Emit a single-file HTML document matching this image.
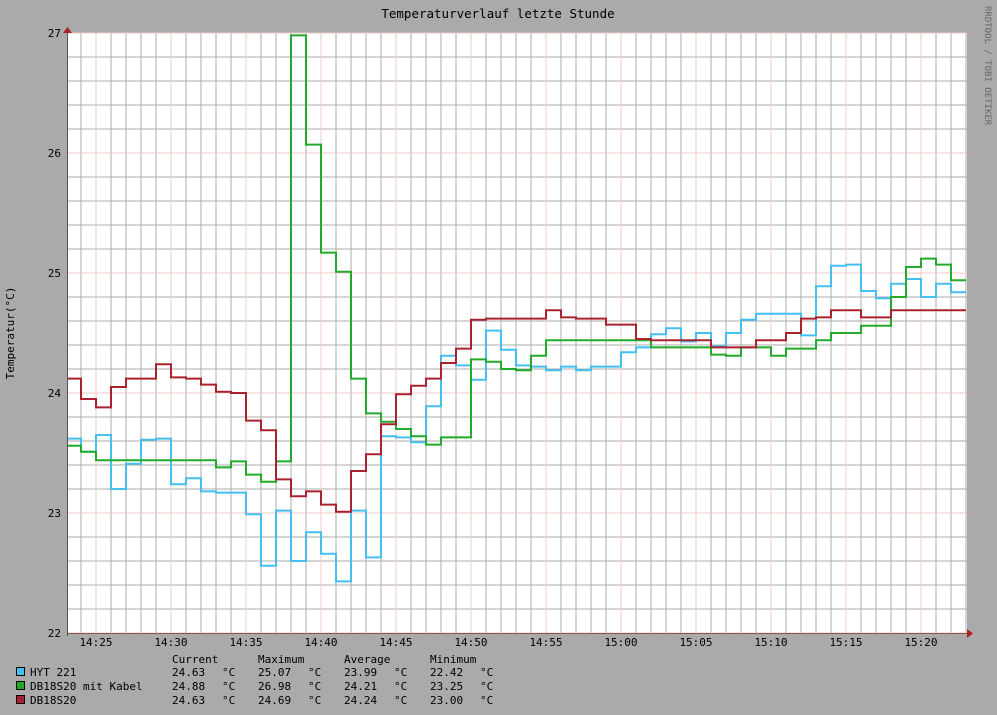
<!DOCTYPE html>
<html><head><meta charset="utf-8"><style>
body{margin:0;background:#aaaaaa;}
svg{display:block;font-family:"DejaVu Sans Mono","Liberation Mono",monospace;}
</style></head><body>
<svg id="chart" width="997" height="715" viewBox="0 0 997 715" xmlns="http://www.w3.org/2000/svg">
<rect x="0" y="0" width="997" height="715" fill="#aaaaaa"/>
<text x="498" y="18" text-anchor="middle" font-size="12.5" fill="#000">Temperaturverlauf letzte Stunde</text>
<text x="0" y="0" transform="translate(985,6) rotate(90)" font-size="9" fill="#666">RRDTOOL / TOBI OETIKER</text>
<text x="0" y="0" transform="translate(14,333) rotate(-90)" text-anchor="middle" font-size="11" fill="#000">Temperatur(°C)</text>
<rect x="67" y="33" width="900" height="600" fill="#ffffff"/>
<path id="minorgrid" d="" fill="none" stroke="#ababab" stroke-width="1" shape-rendering="crispEdges"/>
<path id="majorgrid" d="" fill="none" stroke="#f3c8c8" stroke-width="1" shape-rendering="crispEdges"/>
<g id="series"></g><g id="axes"></g><g id="legend"></g>
</svg>
<script>
const categoriesMinutes = [0,1,2,3,4,5,6,7,8,9,10,11,12,13,14,15,16,17,18,19,20,21,22,23,24,25,26,27,28,29,30,31,32,33,34,35,36,37,38,39,40,41,42,43,44,45,46,47,48,49,50,51,52,53,54,55,56,57,58,59];
const hytValues = [23.62,23.51,23.65,23.20,23.41,23.61,23.62,23.24,23.29,23.18,23.17,23.17,22.99,22.56,23.02,22.60,22.84,22.66,22.43,23.02,22.63,23.64,23.63,23.59,23.89,24.31,24.23,24.11,24.52,24.36,24.23,24.22,24.19,24.22,24.19,24.22,24.22,24.34,24.38,24.49,24.54,24.43,24.50,24.39,24.50,24.61,24.66,24.66,24.66,24.48,24.89,25.06,25.07,24.85,24.79,24.91,24.95,24.80,24.91,24.84];
const kabelValues = [23.56,23.51,23.44,23.44,23.44,23.44,23.44,23.44,23.44,23.44,23.38,23.43,23.32,23.26,23.43,26.98,26.07,25.17,25.01,24.12,23.83,23.76,23.70,23.64,23.57,23.63,23.63,24.28,24.26,24.20,24.19,24.31,24.44,24.44,24.44,24.44,24.44,24.44,24.44,24.38,24.38,24.38,24.38,24.32,24.31,24.38,24.38,24.31,24.37,24.37,24.44,24.50,24.50,24.56,24.56,24.80,25.05,25.12,25.07,24.94];
const db18Values = [24.12,23.95,23.88,24.05,24.12,24.12,24.24,24.13,24.12,24.07,24.01,24.00,23.77,23.69,23.28,23.14,23.18,23.07,23.01,23.35,23.49,23.74,23.99,24.06,24.12,24.25,24.37,24.61,24.62,24.62,24.62,24.62,24.69,24.63,24.62,24.62,24.57,24.57,24.45,24.44,24.44,24.44,24.44,24.38,24.38,24.38,24.44,24.44,24.50,24.62,24.63,24.69,24.69,24.63,24.63,24.69,24.69,24.69,24.69,24.69];
const yTicks = [22,23,24,25,26,27];
const xTickLabels = ["14:25","14:30","14:35","14:40","14:45","14:50","14:55","15:00","15:05","15:10","15:15","15:20"];
const xTickMinutes = [2,7,12,17,22,27,32,37,42,47,52,57];
const legendNames = ["HYT 221","DB18S20 mit Kabel","DB18S20"];
const legendCurrent = ["24.63","24.88","24.63"];
const legendMax = ["25.07","26.98","24.69"];
const legendAvg = ["23.99","24.21","24.24"];
const legendMin = ["22.42","23.25","23.00"];

const NS="http://www.w3.org/2000/svg";
const X0=67,X1=967,Y0=33,Y1=633,YMIN=22,YMAX=27;
function xs(m){return Math.min(X1,Math.max(X0,66+15*m));}
function ys(v){return Y1-(v-YMIN)/(YMAX-YMIN)*(Y1-Y0);}
function mk(tag,attrs,parent){const e=document.createElementNS(NS,tag);for(const k in attrs)e.setAttribute(k,attrs[k]);parent.appendChild(e);return e;}
const axes=document.getElementById('axes'),ser=document.getElementById('series'),leg=document.getElementById('legend');
let dMinor='',dMajor='';
for(let k=0;k<=25;k++){
  const y=Math.round(ys(YMIN+k*0.2));
  const seg='M'+X0+' '+y+' L'+X1+' '+y+' ';
  if(k%5===0) dMajor+=seg; else dMinor+=seg;
}
for(let m=1;m<=60;m++){
  const x=66+15*m; if(x>X1)break;
  const seg='M'+x+' '+Y0+' L'+x+' '+Y1+' ';
  if(xTickMinutes.indexOf(m)>=0) dMajor+=seg; else dMinor+=seg;
}
document.getElementById('minorgrid').setAttribute('d',dMinor);
document.getElementById('majorgrid').setAttribute('d',dMajor);
function drawSeries(vals,color,name){
  let d='';
  vals.forEach((v,i)=>{const y=ys(v).toFixed(1),xa=xs(categoriesMinutes[i]),xb=xs(categoriesMinutes[i]+1);d+=(i===0?'M':'L')+xa+' '+y+' L'+xb+' '+y+' ';});
  const p=mk('path',{d:d,fill:'none',stroke:color,'stroke-width':2},ser);
  
  
}
drawSeries(hytValues,'#44bff0','series-hyt-221');
drawSeries(kabelValues,'#22aa2a','series-db18s20-mit-kabel');
drawSeries(db18Values,'#aa2230','series-db18s20');
const xa=mk('line',{x1:X0,x2:X1+2,y1:Y1+0.5,y2:Y1+0.5,stroke:'#8a5555','stroke-width':1},axes);


const xarr=mk('path',{d:'M967 629 L973 633.5 L967 638 Z',fill:'#aa2222'},axes);


const ya=mk('line',{x1:X0+0.5,x2:X0+0.5,y1:Y1+3,y2:Y0-4,stroke:'#555','stroke-width':1},axes);


const yarr=mk('path',{d:'M63 33 L67.5 27 L72 33 Z',fill:'#aa2222'},axes);


yTicks.forEach(v=>{
  const t=mk('text',{x:61,y:ys(v)+4,'text-anchor':'end','font-size':11,fill:'#000'},axes);
  t.textContent=v;
  
  
});
xTickLabels.forEach((s,i)=>{
  const t=mk('text',{x:66+15*xTickMinutes[i],y:646,'text-anchor':'middle','font-size':11,fill:'#000'},axes);
  t.textContent=s;
  
  
});
const heads=[["Current",172],["Maximum",258],["Average",344],["Minimum",430]];
heads.forEach(h=>{const t=mk('text',{x:h[1],y:663,'font-size':11,fill:'#000'},leg);t.textContent=h[0];
  
  });
const colors=['#44bff0','#22aa2a','#aa2230'];
legendNames.forEach((n,i)=>{
  const y=676+i*14;
  const r=mk('rect',{x:16.5,y:y-8.5,width:8,height:8,fill:colors[i],stroke:'#000','stroke-width':1},leg);
  
  
  const t=mk('text',{x:30,y:y,'font-size':11,fill:'#000'},leg);t.textContent=n;
  
  
  [legendCurrent[i],legendMax[i],legendAvg[i],legendMin[i]].forEach((v,j)=>{
    const tv=mk('text',{x:172+86*j,y:y,'font-size':11,fill:'#000'},leg);
    tv.textContent=v;
    
    
    const tu=mk('text',{x:222+86*j,y:y,'font-size':11,fill:'#000'},leg);
    tu.textContent='°C';
    
    
  });
});
</script>
</body></html>
